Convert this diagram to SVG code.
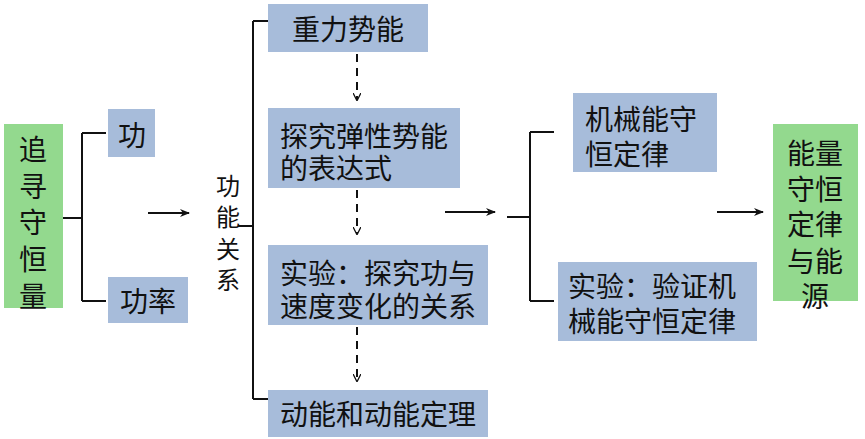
<svg xmlns="http://www.w3.org/2000/svg" width="865" height="439" viewBox="0 0 865 439">
<defs>
<style>
.b{fill:#A7BCDA}
.g{fill:#93D98E}
.t{font-family:"Noto Sans CJK SC","Noto Sans",sans-serif;font-size:28px;fill:#111;dominant-baseline:central}
.c{text-anchor:middle}
.ln{stroke:#111;stroke-width:2;fill:none}
.ds{stroke:#111;stroke-width:2;fill:none;stroke-dasharray:8,6}
</style>
<marker id="ah" viewBox="0 0 10 10" refX="9" refY="5" markerWidth="8" markerHeight="8" markerUnits="userSpaceOnUse" orient="auto"><path d="M0,0 L10,5 L0,10" fill="none" stroke="#111" stroke-width="1.6"/></marker>
<marker id="ah2" viewBox="0 0 10 10" refX="9" refY="5" markerWidth="10" markerHeight="10" markerUnits="userSpaceOnUse" orient="auto"><path d="M0,1 L10,5 L0,9 L3,5 Z" fill="#111"/></marker>
</defs>
<rect width="865" height="439" fill="#fff"/>
<g id="connectors">
<path class="ln" d="M63,218 H82 M82,133 V301 M82,133 H106 M82,301 H106"/>
<line class="ln" x1="148" y1="213" x2="189" y2="213" marker-end="url(#ah2)"/>
<path class="ln" d="M238,226 H253 M253,21 V399 M253,21 H268 M253,399 H268"/>
<line class="ds" x1="357" y1="54" x2="357" y2="100" marker-end="url(#ah)"/>
<line class="ds" x1="357" y1="190" x2="357" y2="234" marker-end="url(#ah)"/>
<line class="ds" x1="357" y1="327" x2="357" y2="381" marker-end="url(#ah)"/>
<line class="ln" x1="445" y1="212" x2="495" y2="212" marker-end="url(#ah2)"/>
<path class="ln" d="M507,217 H530 M530,132 V301 M530,132 H554 M530,301 H554"/>
<line class="ln" x1="717" y1="212" x2="763" y2="212" marker-end="url(#ah2)"/>
</g>
<g id="n-zhuixun">
<rect class="g" x="4" y="124" width="59" height="184"/>
<text class="t c" x="33" y="148">追</text>
<text class="t c" x="33" y="185">寻</text>
<text class="t c" x="33" y="221">守</text>
<text class="t c" x="33" y="258">恒</text>
<text class="t c" x="33" y="295">量</text>
</g>
<g id="n-gong">
<rect class="b" x="108" y="109" width="47" height="48"/>
<text class="t c" x="132" y="134">功</text>
</g>
<g id="n-gonglv">
<rect class="b" x="108" y="277" width="80" height="46"/>
<text class="t c" x="148" y="300">功率</text>
</g>
<g id="n-gongneng">
<text class="t c" x="228" y="184" style="font-size:24px">功</text>
<text class="t c" x="228" y="215" style="font-size:24px">能</text>
<text class="t c" x="228" y="247" style="font-size:24px">关</text>
<text class="t c" x="228" y="278" style="font-size:24px">系</text>
</g>
<g id="n-zhongli">
<rect class="b" x="268" y="4" width="160" height="48"/>
<text class="t c" x="348" y="28">重力势能</text>
</g>
<g id="n-tanjiu">
<rect class="b" x="268" y="108" width="192" height="80"/>
<text class="t" x="280" y="135">探究弹性势能</text>
<text class="t" x="280" y="167">的表达式</text>
</g>
<g id="n-shiyan1">
<rect class="b" x="268" y="245" width="220" height="80"/>
<text class="t" x="280" y="272">实验：探究功与</text>
<text class="t" x="280" y="305">速度变化的关系</text>
</g>
<g id="n-dongneng">
<rect class="b" x="268" y="390" width="220" height="47"/>
<text class="t" x="280" y="413">动能和动能定理</text>
</g>
<g id="n-jixie">
<rect class="b" x="573" y="93" width="144" height="79"/>
<text class="t" x="585" y="118">机械能守</text>
<text class="t" x="585" y="153">恒定律</text>
</g>
<g id="n-shiyan2">
<rect class="b" x="558" y="262" width="199" height="79"/>
<text class="t" x="568" y="285">实验：验证机</text>
<text class="t" x="568" y="320">械能守恒定律</text>
</g>
<g id="n-nengliang">
<rect class="g" x="773" y="124" width="85" height="177"/>
<text class="t c" x="815" y="152">能量</text>
<text class="t c" x="815" y="188">守恒</text>
<text class="t c" x="815" y="223">定律</text>
<text class="t c" x="815" y="260">与能</text>
<text class="t c" x="815" y="295">源</text>
</g>
</svg>
